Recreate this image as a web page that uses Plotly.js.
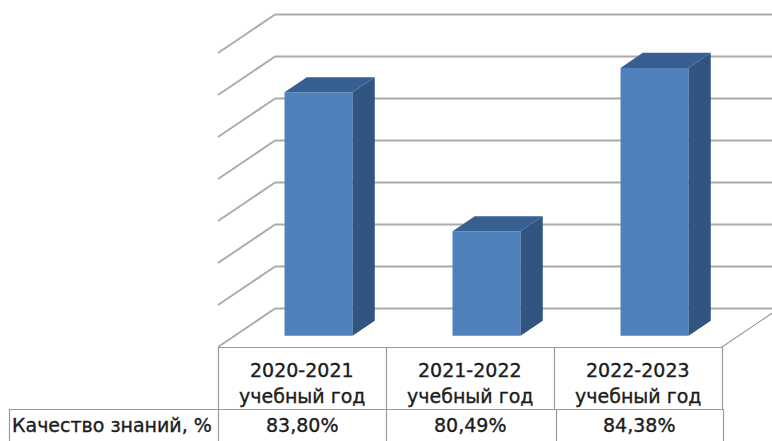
<!DOCTYPE html>
<html><head><meta charset="utf-8">
<script src="https://cdn.plot.ly/plotly-3.0.1.min.js"></script>
<style>html,body{margin:0;padding:0;background:#fff}
.annotation-text{stroke:#1c1c1c;stroke-width:.35px}</style></head>
<body><div id="chart" style="width:772px;height:441px"></div>
<script>
const years = ["2020-2021", "2021-2022", "2022-2023"];
const yearSuffix = "учебный год";
const seriesName = "Качество знаний, %";
const values = [83.80, 80.49, 84.38];
const gridTicks = [78, 79, 80, 81, 82, 83, 84, 85];
const W = 772, H = 441;
const catPx = 168, unitPx = 42, floorLeft = 218, floorFront = 347;
const wallDx = 57, wallDy = 38.5;
const barW = 68, barFront = 0.29, barDepth = 0.39;
const axMin = gridTicks[0];
// oblique projection: category position c, value v, depth d -> axis coordinates
const px = (c, d) => c + d * wallDx / catPx;
const py = (v, d) => v + d * wallDy / unitPx;
const xRange = [-floorLeft / catPx, (W - floorLeft) / catPx];
const yRange = [axMin - (H - floorFront) / unitPx, axMin + floorFront / unitPx];
const hw = barW / catPx / 2;

const traces = [{
  type: "bar",
  x: years.map((_, i) => px(i + 0.5, barFront)),
  y: values.map(v => v - axMin),
  base: values.map(() => py(axMin, barFront)),
  width: barW / catPx,
  marker: {color: "#4F81BD", line: {width: 0}},
  name: seriesName, hoverinfo: "skip"
}];
values.forEach((v, i) => {
  const l = i + 0.5 - hw, r = i + 0.5 + hw, f = barFront, b = barFront + barDepth;
  traces.push({type: "scatter", mode: "lines", fill: "toself", fillcolor: "#2F5580",
    line: {width: 0, color: "#2F5580"}, hoverinfo: "skip",
    x: [px(r, f), px(r, b), px(r, b), px(r, f), px(r, f)],
    y: [py(axMin, f), py(axMin, b), py(v, b), py(v, f), py(axMin, f)]});
  traces.push({type: "scatter", mode: "lines", fill: "toself", fillcolor: "#375F92",
    line: {width: 0, color: "#375F92"}, hoverinfo: "skip",
    x: [px(l, f), px(l, b), px(r, b), px(r, f), px(l, f)],
    y: [py(v, f), py(v, b), py(v, b), py(v, f), py(v, f)]});
});

const GRID = {color: "#ABABAB", width: 2};
const TBL = {color: "#9A9A9A", width: 1.2};
const shapes = [];
gridTicks.forEach(t => {
  shapes.push({type: "line", layer: "below", xref: "x", yref: "y", line: GRID,
    x0: px(0, 0), y0: py(t, 0), x1: px(0, 1), y1: py(t, 1)});
  shapes.push({type: "line", layer: "below", xref: "x", yref: "y", line: GRID,
    x0: px(0, 1), y0: py(t, 1), x1: px(years.length, 1), y1: py(t, 1)});
});
shapes.push({type: "line", layer: "below", xref: "x", yref: "y", line: TBL,
  x0: px(years.length, 0), y0: py(axMin, 0), x1: px(years.length, 1), y1: py(axMin, 1)});
const pxLine = (x0, y0, x1, y1) => ({type: "line", layer: "below", xref: "paper", yref: "paper", line: TBL,
  x0: x0 / W, x1: x1 / W, y0: 1 - y0 / H, y1: 1 - y1 / H});
shapes.push(pxLine(218, 347.5, 722, 347.5), pxLine(9, 409.5, 723, 409.5), pxLine(9.5, 409, 9.5, 441));
[218.5, 386.5, 554.5, 722.5].forEach(x => shapes.push(pxLine(x, 347, x, 409)));
[218.5, 386.5, 556.5, 723.5].forEach(x => shapes.push(pxLine(x, 409, x, 441)));

const FONT = {family: "DejaVu Sans", size: 19, color: "#1c1c1c"};
const ann = (text, xPx, yPx, anchor) => ({text, xref: "paper", yref: "paper", x: xPx / W, y: 1 - yPx / H,
  xanchor: anchor || "center", yanchor: "middle", showarrow: false, font: FONT});
const centers = [302, 470, 638];
const annotations = [ann(seriesName, 10, 425, "left")];
years.forEach((y, i) => {
  annotations.push(ann(y, centers[i], 370));
  annotations.push(ann(yearSuffix, centers[i], 396));
  annotations.push(ann(values[i].toFixed(2).replace(".", ",") + "%", centers[i] + (i === 2 ? 1 : 0), 425));
});

Plotly.newPlot("chart", traces, {
  width: W, height: H, margin: {l: 0, r: 0, t: 0, b: 0},
  paper_bgcolor: "#fff", plot_bgcolor: "rgba(0,0,0,0)", showlegend: false,
  xaxis: {range: xRange, visible: false, fixedrange: true},
  yaxis: {range: yRange, visible: false, fixedrange: true},
  shapes, annotations
}, {displayModeBar: false, staticPlot: true});
</script></body></html>
